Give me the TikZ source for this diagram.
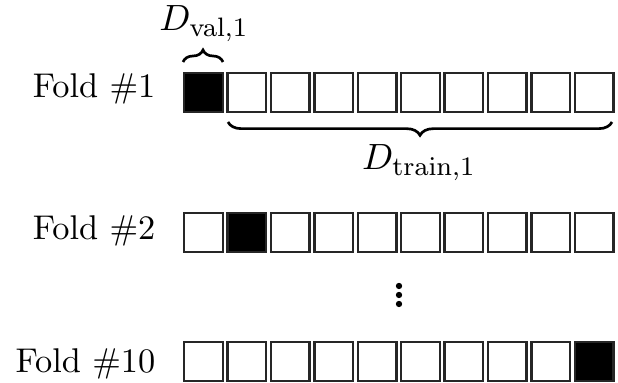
\documentclass[tikz,border=0pt]{standalone}
\usetikzlibrary{decorations.pathreplacing}
\begin{document}
\begin{tikzpicture}[x=0.3pt,y=-0.3pt,
  cell/.style={draw=black!85,line width=0.7pt,minimum size=11.6pt,inner sep=0pt,anchor=north west},
  valcell/.style={cell,fill=black},
  foldlabel/.style={anchor=base east,inner sep=0pt,font=\fontsize{10.3}{12}\selectfont},
  dlabel/.style={anchor=base,inner sep=0pt,font=\fontsize{11}{13}\selectfont},
  bracestyle/.style={decorate,line width=0.8pt}]
\useasboundingbox (0,0) rectangle (618,383);
% Fold 1
\node[foldlabel] (f1) at (156,98) {Fold \#1};
\foreach \i in {0,...,9}{
  \pgfmathsetmacro{\xx}{183+43.4*\i}
  \ifnum\i=0
    \node[valcell] (a\i) at (\xx,72) {};
  \else
    \node[cell] (a\i) at (\xx,72) {};
  \fi
}
% Fold 2
\node[foldlabel] (f2) at (156,240) {Fold \#2};
\foreach \i in {0,...,9}{
  \pgfmathsetmacro{\xx}{183+43.4*\i}
  \ifnum\i=1
    \node[valcell] (b\i) at (\xx,212) {};
  \else
    \node[cell] (b\i) at (\xx,212) {};
  \fi
}
% Fold 10
\node[foldlabel] (f10) at (156,373) {Fold \#10};
\foreach \i in {0,...,9}{
  \pgfmathsetmacro{\xx}{183+43.4*\i}
  \ifnum\i=9
    \node[valcell] (c\i) at (\xx,341) {};
  \else
    \node[cell] (c\i) at (\xx,341) {};
  \fi
}
% dots
\foreach \yy/\n in {286/d1,295/d2,304/d3}{
  \fill (399,\yy) circle (0.95pt);
}
% braces
\coordinate (vl) at (183,62);
\coordinate (vr) at (223,62);
\draw[bracestyle,decoration={brace,amplitude=3.6pt}] (vl) -- (vr) node[midway] (vmid) {};
\node[dlabel] (dval) at (204,31) {$D_{\mathrm{val},1}$};
\coordinate (tl) at (228,122);
\coordinate (tr) at (612,122);
\draw[bracestyle,decoration={brace,mirror,amplitude=4pt}] (tl) -- (tr);
\node[dlabel] (dtrain) at (419,170) {$D_{\mathrm{train},1}$};
\end{tikzpicture}
\end{document}
